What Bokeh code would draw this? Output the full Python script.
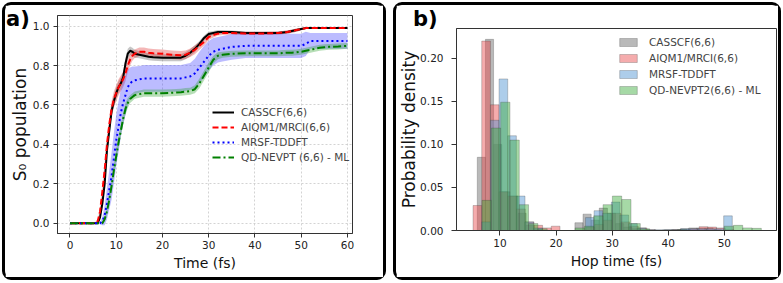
import numpy as np
from bokeh.plotting import figure
from bokeh.models import Legend, LegendItem, Div, FixedTicker, PrintfTickFormatter
from bokeh.embed import file_html
from bokeh.resources import INLINE

# ---------------- Panel a data: S0 population vs time ----------------
T = [0, 5, 6, 6.5, 7, 7.5, 8, 8.5, 9, 9.5, 10, 10.5, 11, 11.5, 12, 12.5, 13, 13.5, 14, 15,
     16, 17, 18, 20, 22, 24, 25, 26, 27, 28, 29, 30, 31, 32, 33, 35, 38, 42, 45, 47,
     48, 49, 50, 51, 52, 53, 54, 55, 56, 58, 60]

casscf = [0, 0, 0, 0.03, 0.10, 0.20, 0.37, 0.47, 0.57, 0.62, 0.66, 0.69, 0.71, 0.74, 0.81, 0.86, 0.875, 0.87, 0.86, 0.855,
          0.85, 0.845, 0.842, 0.84, 0.84, 0.84, 0.85, 0.865, 0.885, 0.91, 0.94, 0.96, 0.965, 0.97, 0.97, 0.97, 0.965, 0.965, 0.965, 0.97,
          0.975, 0.98, 0.985, 0.99, 0.99, 0.99, 0.99, 0.99, 0.99, 0.99, 0.99]
casscf_err = [0, 0, 0, 0.01, 0.02, 0.03, 0.03, 0.03, 0.03, 0.03, 0.03, 0.03, 0.03, 0.03, 0.03, 0.025, 0.022, 0.02, 0.02, 0.018,
              0.018, 0.018, 0.018, 0.018, 0.018, 0.018, 0.018, 0.018, 0.018, 0.015, 0.013, 0.012, 0.01, 0.01, 0.01, 0.008, 0.008, 0.008, 0.008, 0.008,
              0.008, 0.008, 0.006, 0.005, 0.005, 0.005, 0.005, 0.005, 0.005, 0.005, 0.005]

aiqm1 = [0, 0, 0.01, 0.06, 0.16, 0.27, 0.40, 0.50, 0.58, 0.63, 0.66, 0.69, 0.71, 0.73, 0.76, 0.80, 0.83, 0.85, 0.86, 0.87,
         0.87, 0.865, 0.862, 0.86, 0.855, 0.852, 0.855, 0.865, 0.88, 0.90, 0.92, 0.945, 0.955, 0.962, 0.965, 0.965, 0.963, 0.963, 0.965, 0.97,
         0.975, 0.98, 0.985, 0.99, 0.99, 0.99, 0.99, 0.99, 0.99, 0.99, 0.99]
aiqm1_err = [0, 0, 0.005, 0.02, 0.03, 0.04, 0.04, 0.04, 0.04, 0.04, 0.04, 0.04, 0.04, 0.04, 0.04, 0.035, 0.03, 0.025, 0.022, 0.022,
             0.022, 0.022, 0.022, 0.022, 0.022, 0.022, 0.022, 0.022, 0.022, 0.02, 0.018, 0.015, 0.012, 0.01, 0.01, 0.008, 0.008, 0.008, 0.008, 0.008,
             0.008, 0.008, 0.006, 0.005, 0.005, 0.005, 0.005, 0.005, 0.005, 0.005, 0.005]

mrsf = [0, 0, 0, 0, 0.01, 0.04, 0.10, 0.17, 0.24, 0.33, 0.42, 0.49, 0.56, 0.61, 0.65, 0.69, 0.71, 0.72, 0.725, 0.73,
        0.735, 0.735, 0.735, 0.735, 0.735, 0.735, 0.74, 0.745, 0.76, 0.79, 0.82, 0.85, 0.87, 0.88, 0.885, 0.895, 0.90, 0.90, 0.90, 0.90,
        0.90, 0.90, 0.90, 0.91, 0.925, 0.925, 0.925, 0.925, 0.925, 0.925, 0.925]
mrsf_err = [0, 0, 0, 0.005, 0.02, 0.05, 0.08, 0.10, 0.12, 0.13, 0.13, 0.13, 0.12, 0.11, 0.10, 0.09, 0.08, 0.075, 0.07, 0.068,
            0.068, 0.068, 0.068, 0.068, 0.068, 0.068, 0.068, 0.068, 0.075, 0.08, 0.08, 0.075, 0.07, 0.065, 0.065, 0.065, 0.062, 0.062, 0.062, 0.062,
            0.062, 0.062, 0.062, 0.062, 0.04, 0.04, 0.04, 0.04, 0.04, 0.04, 0.04]

qdnevpt = [0, 0, 0, 0, 0, 0.02, 0.06, 0.12, 0.19, 0.27, 0.34, 0.41, 0.47, 0.53, 0.58, 0.61, 0.63, 0.64, 0.65, 0.655,
           0.66, 0.66, 0.66, 0.66, 0.662, 0.665, 0.668, 0.67, 0.68, 0.71, 0.75, 0.79, 0.83, 0.85, 0.855, 0.86, 0.862, 0.862, 0.862, 0.865,
           0.865, 0.867, 0.87, 0.875, 0.88, 0.885, 0.89, 0.893, 0.895, 0.897, 0.90]
qdnevpt_err = [0, 0, 0, 0, 0, 0.01, 0.02, 0.03, 0.03, 0.03, 0.03, 0.03, 0.03, 0.03, 0.03, 0.025, 0.02, 0.02, 0.018, 0.018,
               0.018, 0.018, 0.018, 0.018, 0.018, 0.018, 0.018, 0.018, 0.02, 0.025, 0.025, 0.025, 0.02, 0.018, 0.015, 0.015, 0.015, 0.015, 0.015, 0.015,
               0.015, 0.015, 0.015, 0.015, 0.015, 0.015, 0.015, 0.015, 0.015, 0.015, 0.015]

labels_a = ["CASSCF(6,6)", "AIQM1/MRCI(6,6)", "MRSF-TDDFT", "QD-NEVPT (6,6) - ML"]

# ---------------- Panel b data: hop-time histograms ----------------
labels_b = ["CASSCF(6,6)", "AIQM1/MRCI(6,6)", "MRSF-TDDFT", "QD-NEVPT2(6,6) - ML"]
# bin start, bin width, density per bin
casscf_bin0, casscf_binw = 5.96, 1.45
casscf_h = [0.085, 0.222, 0.10, 0.045, 0.04, 0.02, 0.006, 0.002, 0, 0, 0, 0, 0.009, 0.019, 0.012,
            0.026, 0.02, 0.008, 0.004, 0.002, 0, 0, 0, 0.001, 0.001, 0.002, 0.003, 0.003, 0.003, 0.001]
aiqm1_bin0, aiqm1_binw = 5.2, 1.55
aiqm1_h = [0.029, 0.220, 0.146, 0.045, 0.04, 0.025, 0.01, 0.006, 0.003, 0.005, 0, 0, 0, 0.004, 0.007,
           0.012, 0.02, 0.01, 0.005, 0.003, 0.001, 0, 0, 0.001, 0.001, 0.002, 0.0045, 0.004, 0.003, 0.001]
mrsf_bin0, mrsf_binw = 6.76, 1.54
mrsf_h = [0.01, 0.128, 0.176, 0.11, 0.04, 0.01, 0.003, 0, 0, 0, 0, 0, 0.015, 0.023, 0.02,
          0.033, 0.018, 0.008, 0.003, 0.001, 0.001, 0.001, 0.001, 0.002, 0.002, 0.002, 0.002, 0.002, 0.017]
qdnevpt_bin0, qdnevpt_binw = 6.8, 1.66
qdnevpt_h = [0.035, 0.119, 0.149, 0.105, 0.03, 0.008, 0.002, 0, 0, 0, 0.003, 0.005, 0.017, 0.03, 0.04,
             0.036, 0.008, 0.002, 0, 0, 0, 0.001, 0, 0, 0, 0, 0.005, 0.006, 0.003, 0.0025]

FONT = "DejaVu Sans"


def style_axes(p, tick_size="10.5px", xlab_size="14px", ylab_size="17px"):
    for ax in (p.xaxis[0], p.yaxis[0]):
        ax.major_label_text_font = FONT
        ax.major_label_text_font_size = tick_size
        ax.major_label_text_color = "#222222"
        ax.axis_label_text_font = FONT
        ax.axis_label_text_font_style = "normal"
        ax.axis_label_text_color = "#111111"
        ax.minor_tick_line_color = None
        ax.major_tick_out = 4
        ax.major_tick_in = 0
        ax.axis_line_color = "#333333"
        ax.major_tick_line_color = "#333333"
        ax.major_label_standoff = 4
        ax.axis_label_standoff = 3
    p.xaxis[0].axis_label_text_font_size = xlab_size
    p.yaxis[0].axis_label_text_font_size = ylab_size
    p.outline_line_color = "#333333"
    p.outline_line_width = 1


def panel_style(left, top):
    return {"position": "absolute", "left": f"{left}px", "top": f"{top}px",
            "outline": "3px solid black", "border-radius": "6px"}


# ---------------- Figure a ----------------
pa = figure(width=378, height=272, x_range=(-2.7, 61.1), y_range=(-0.052, 1.054),
            output_backend="svg", toolbar_location=None, title=None,
            min_border_left=52, min_border_right=31, min_border_top=10, min_border_bottom=44)
pa.styles = panel_style(5, 5)
pa.xaxis.axis_label = "Time (fs)"
pa.yaxis.axis_label = "S\u2080 population"
pa.xaxis.ticker = FixedTicker(ticks=[0, 10, 20, 30, 40, 50, 60])
pa.yaxis.ticker = FixedTicker(ticks=[0, 0.2, 0.4, 0.6, 0.8, 1.0])
pa.yaxis.formatter = PrintfTickFormatter(format="%.1f")
style_axes(pa)
pa.xaxis.major_label_standoff = 3
pa.yaxis.axis_label_standoff = 0
for g in (pa.xgrid[0], pa.ygrid[0]):
    g.grid_line_color = "#c8c8c8"
    g.grid_line_dash = "2 2"
    g.grid_line_width = 0.8

Ta = np.array(T)
series_a = [
    (casscf, casscf_err, "black", "solid", "#808080", 0.45),
    (aiqm1, aiqm1_err, "#ff0000", "6 3", "#e03030", 0.35),
    (mrsf, mrsf_err, "#0000ff", "2 3", "#4040ff", 0.35),
    (qdnevpt, qdnevpt_err, "#008000", "8 3 2 3", "#30a030", 0.35),
]
for y, e, _, _, fc, fa in series_a:
    y = np.array(y); e = np.array(e)
    pa.varea(x=Ta, y1=y - e, y2=y + e, fill_color=fc, fill_alpha=fa)
renderers_a = []
for y, e, lc, dash, _, _ in series_a:
    r = pa.line(Ta, y, line_color=lc, line_dash=dash, line_width=2)
    renderers_a.append(r)

leg_a = Legend(items=[LegendItem(label=l, renderers=[r]) for l, r in zip(labels_a, renderers_a)],
               location=(155, 69), background_fill_alpha=0, border_line_color=None,
               label_text_font=FONT, label_text_font_size="10.5px", label_height=15,
               glyph_width=22, glyph_height=14, label_standoff=7, spacing=0, padding=0, margin=0)
pa.add_layout(leg_a)

# ---------------- Figure b ----------------
pb = figure(width=382, height=272, x_range=(2.25, 59.3), y_range=(0, 0.2346),
            output_backend="svg", toolbar_location=None, title=None,
            min_border_left=56, min_border_right=2, min_border_top=23, min_border_bottom=47)
pb.styles = panel_style(396, 5)
pb.xaxis.axis_label = "Hop time (fs)"
pb.yaxis.axis_label = "Probability density"
pb.xaxis.ticker = FixedTicker(ticks=[10, 20, 30, 40, 50])
pb.yaxis.ticker = FixedTicker(ticks=[0, 0.05, 0.10, 0.15, 0.20])
pb.yaxis.formatter = PrintfTickFormatter(format="%.2f")
style_axes(pb)
pb.yaxis.major_tick_out = 5
pb.xaxis.major_tick_out = 5
pb.yaxis.major_label_standoff = 8
pb.xaxis.major_label_standoff = 3
pb.yaxis.axis_label_standoff = -2
pb.xgrid.visible = False
pb.ygrid.visible = False

series_b = [
    (casscf_bin0, casscf_binw, casscf_h, "#808080", 0.55),
    (aiqm1_bin0, aiqm1_binw, aiqm1_h, "#e8474a", 0.45),
    (mrsf_bin0, mrsf_binw, mrsf_h, "#4a90d0", 0.45),
    (qdnevpt_bin0, qdnevpt_binw, qdnevpt_h, "#3aaa3a", 0.45),
]
renderers_b = []
for b0, bw, h, col, al in series_b:
    h = np.array(h)
    left = b0 + bw * np.arange(len(h))
    r = pb.quad(left=left, right=left + bw, bottom=0, top=h, fill_color=col, fill_alpha=al,
                line_color="#404040", line_alpha=0.35, line_width=0.8)
    renderers_b.append(r)

leg_b = Legend(items=[LegendItem(label=l, renderers=[r]) for l, r in zip(labels_b, renderers_b)],
               location=(161, 132), background_fill_alpha=0, border_line_color=None,
               label_text_font=FONT, label_text_font_size="10.5px", label_height=16,
               glyph_width=22, glyph_height=10, label_standoff=10, spacing=0, padding=0, margin=0)
pb.add_layout(leg_b)

# panel letters
LETTER_STYLE = {"position": "absolute", "font-family": FONT, "font-weight": "bold",
                "font-size": "21px", "color": "black", "z-index": "10", "margin": "0"}
da = Div(text="a)", styles=dict(LETTER_STYLE, left="6px", top="4px"))
db = Div(text="b)", styles=dict(LETTER_STYLE, left="413px", top="4px"))

open("out.html", "w").write(file_html([pa, pb, da, db], INLINE))
